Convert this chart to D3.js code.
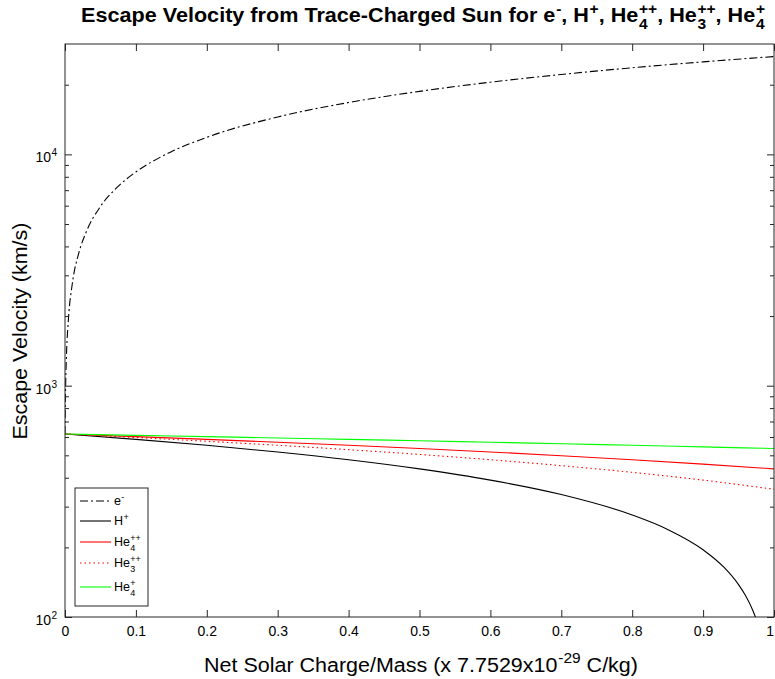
<!DOCTYPE html>
<html><head><meta charset="utf-8">
<script src="https://cdn.jsdelivr.net/npm/d3@7"></script>
<style>
body{margin:0;background:#fff;}
svg{display:block;font-family:'Liberation Sans',Arial,Helvetica,sans-serif;}
text{white-space:pre;}
</style>
</head><body><svg id="c" width="775" height="679"></svg>
<script>
// ---- data ----
const xElectron = [0,0.0005,0.001,0.002,0.005,0.01,0.02,0.03,0.05,0.075,0.1,0.15,0.2,0.3,0.4,0.5,0.6,0.7,0.8,0.9,1.0];
const vElectron = [618,855,1040,1335,1971,2718,3794,4626,5951,7275,8393,10270,11853,14510,16751,18726,20511,22153,23681,25117,26475];
const xProton = [0,0.1,0.2,0.3,0.4,0.5,0.6,0.7,0.8,0.85,0.9,0.93,0.95,0.96,0.97,0.975,0.98];
const vProton = [618,586,552.5,516.8,478.5,436.8,390.7,338.3,276.2,239.2,195.3,163.4,138.1,123.5,107.0,97.7,87.4];
const xHelium = [0,0.1,0.2,0.3,0.4,0.5,0.6,0.7,0.8,0.9,1.0];
const vHe4pp = [618,602.1,586.0,569.5,552.5,534.9,516.8,498.0,478.5,458.1,436.8];
const vHe3pp = [618,596.8,575.0,552.5,529.0,504.4,478.5,451.1,422.0,390.7,356.6];
const vHe4p  = [618,609.9,602.1,594.1,586.0,577.8,569.5,561.1,552.5,543.8,534.9];
const xTicks = [0,0.1,0.2,0.3,0.4,0.5,0.6,0.7,0.8,0.9,1];
const xTickLabels = ["0","0.1","0.2","0.3","0.4","0.5","0.6","0.7","0.8","0.9","1"];
const yMajor = [100,1000,10000];
const yMajorExp = ["2","3","4"];
const yMinor = [200,300,400,500,600,700,800,900,2000,3000,4000,5000,6000,7000,8000,9000,20000];
const yDomain = [100,30000];

const series = [
  {x:xElectron, v:vElectron, color:"#000", dash:"8,3,2,3", label:{t:"e",sup:"-"}},
  {x:xProton, v:vProton, color:"#000", dash:null, label:{t:"H",sup:"+"}},
  {x:xHelium, v:vHe4pp, color:"#ff0000", dash:null, label:{t:"He",sup:"++",sub:"4"}},
  {x:xHelium, v:vHe3pp, color:"#ff0000", dash:"1.5,3", label:{t:"He",sup:"++",sub:"3"}},
  {x:xHelium, v:vHe4p, color:"#00ff00", dash:null, label:{t:"He",sup:"+",sub:"4"}}
];

const svg = d3.select("#c");
const L=65, R=774, T=44, B=617;
const x = d3.scaleLinear().domain([0,1]).range([L,R]);
const y = d3.scaleLog().domain(yDomain).range([B,T]);
const axisColor = "#262626";

svg.append("defs").append("clipPath").attr("id","clip")
  .append("rect").attr("x",L).attr("y",T).attr("width",R-L).attr("height",B-T);

// rich text helper: parts [{t,sup,sub}]
function rich(g, parts, size, weight){
  const grp = g.append("g");
  let cx = 0;
  parts.forEach(p=>{
    if(p.t){
      const t = grp.append("text").attr("x",cx).attr("y",0).attr("font-size",size)
        .attr("font-weight",weight||"normal").attr("fill","#000").text(p.t);
      cx += t.node().getComputedTextLength();
    }
    let w = 0;
    if(p.sup){
      const s = grp.append("text").attr("x",cx+size*0.03).attr("y",-size*0.42).attr("font-size",size*0.72)
        .attr("font-weight",weight||"normal").attr("fill","#000").text(p.sup);
      w = Math.max(w, s.node().getComputedTextLength()+size*0.03);
    }
    if(p.sub){
      const s = grp.append("text").attr("x",cx+size*0.03).attr("y",size*0.38).attr("font-size",size*0.72)
        .attr("font-weight",weight||"normal").attr("fill","#000").text(p.sub);
      w = Math.max(w, s.node().getComputedTextLength()+size*0.03);
    }
    cx += w;
  });
  return {grp, width:cx};
}

// curves
const plot = svg.append("g").attr("clip-path","url(#clip)");
series.forEach(s=>{
  const pts = s.x.map((d,i)=>[d,s.v[i]]);
  const line = d3.line().x(d=>x(d[0])).y(d=>y(d[1])).curve(d3.curveMonotoneX);
  plot.append("path").attr("d",line(pts)).attr("fill","none")
    .attr("stroke",s.color).attr("stroke-width",1.1)
    .attr("stroke-dasharray",s.dash);
});

// axes box
const ax = svg.append("g");
ax.append("rect").attr("x",L).attr("y",T).attr("width",R-L).attr("height",B-T)
  .attr("fill","none").attr("stroke",axisColor).attr("stroke-width",1);

function styleAxis(g){ g.select(".domain").remove(); g.selectAll(".tick line").attr("stroke",axisColor); }

svg.append("g").attr("transform",`translate(0,${B})`)
  .call(d3.axisBottom(x).tickValues(xTicks).tickSizeInner(-7).tickSizeOuter(0).tickPadding(9)
    .tickFormat((d,i)=>xTickLabels[i]))
  .call(styleAxis)
  .call(g=>g.selectAll(".tick text").attr("font-size",14).attr("fill","#000")
    .attr("font-family","'Liberation Sans',Arial,sans-serif")
    .filter(d=>d===1).attr("text-anchor","end").attr("dx","-0.5"));
svg.append("g").attr("transform",`translate(0,${T})`)
  .call(d3.axisTop(x).tickValues(xTicks).tickSizeInner(-7).tickSizeOuter(0).tickFormat(""))
  .call(styleAxis);
svg.append("g").attr("transform",`translate(${L},0)`)
  .call(d3.axisLeft(y).tickValues(yMajor).tickSizeInner(-7).tickSizeOuter(0).tickFormat(""))
  .call(styleAxis);
svg.append("g").attr("transform",`translate(${L},0)`)
  .call(d3.axisLeft(y).tickValues(yMinor).tickSizeInner(-4).tickSizeOuter(0).tickFormat(""))
  .call(styleAxis);
svg.append("g").attr("transform",`translate(${R},0)`)
  .call(d3.axisRight(y).tickValues(yMajor).tickSizeInner(-7).tickSizeOuter(0).tickFormat(""))
  .call(styleAxis);
svg.append("g").attr("transform",`translate(${R},0)`)
  .call(d3.axisRight(y).tickValues(yMinor).tickSizeInner(-4).tickSizeOuter(0).tickFormat(""))
  .call(styleAxis);

// y major labels 10^n
yMajor.forEach((v,i)=>{
  const r = rich(svg, [{t:"10",sup:yMajorExp[i]}], 14, "normal");
  r.grp.attr("transform",`translate(${L-8-r.width},${y(v)+8})`);
});

// title
const title = rich(svg, [
  {t:"Escape Velocity from Trace-Charged Sun for e",sup:"-"},
  {t:", H",sup:"+"},
  {t:", He",sup:"++",sub:"4"},
  {t:", He",sup:"++",sub:"3"},
  {t:", He",sup:"+",sub:"4"}
], 19.5, "bold");
{
  const target = 684, cxm = 423;
  const s = target/title.width;
  title.grp.attr("transform",`translate(${cxm-target/2},22) scale(${s},1)`);
}

// x label
const xl = rich(svg, [{t:"Net Solar Charge/Mass (x 7.7529x10",sup:"-29"},{t:" C/kg)"}], 21, "normal");
{
  const target = 434, cxm = 421;
  const s = target/xl.width;
  xl.grp.attr("transform",`translate(${cxm-target/2},672) scale(${s},1)`);
}
// y label
const yl = rich(svg, [{t:"Escape Velocity (km/s)"}], 21, "normal");
{
  const target = 217, cym = 331;
  const s = target/yl.width;
  yl.grp.attr("transform",`translate(27,${cym+target/2}) rotate(-90) scale(${s},1)`);
}

// legend
const lg = svg.append("g");
const lx=75, ly=488, lw=73, lh=118;
lg.append("rect").attr("x",lx).attr("y",ly).attr("width",lw).attr("height",lh)
  .attr("fill","#fff").attr("stroke",axisColor).attr("stroke-width",1);
const rowY = [501,521,542,563,587];
series.forEach((s,i)=>{
  lg.append("line").attr("x1",lx+5).attr("x2",lx+36).attr("y1",rowY[i]).attr("y2",rowY[i])
    .attr("stroke",s.color).attr("stroke-width",1.1).attr("stroke-dasharray",s.dash);
  const r = rich(lg, [s.label], 12.5, "normal");
  r.grp.attr("transform",`translate(${lx+39},${rowY[i]+4})`);
});
</script>
</body></html>
